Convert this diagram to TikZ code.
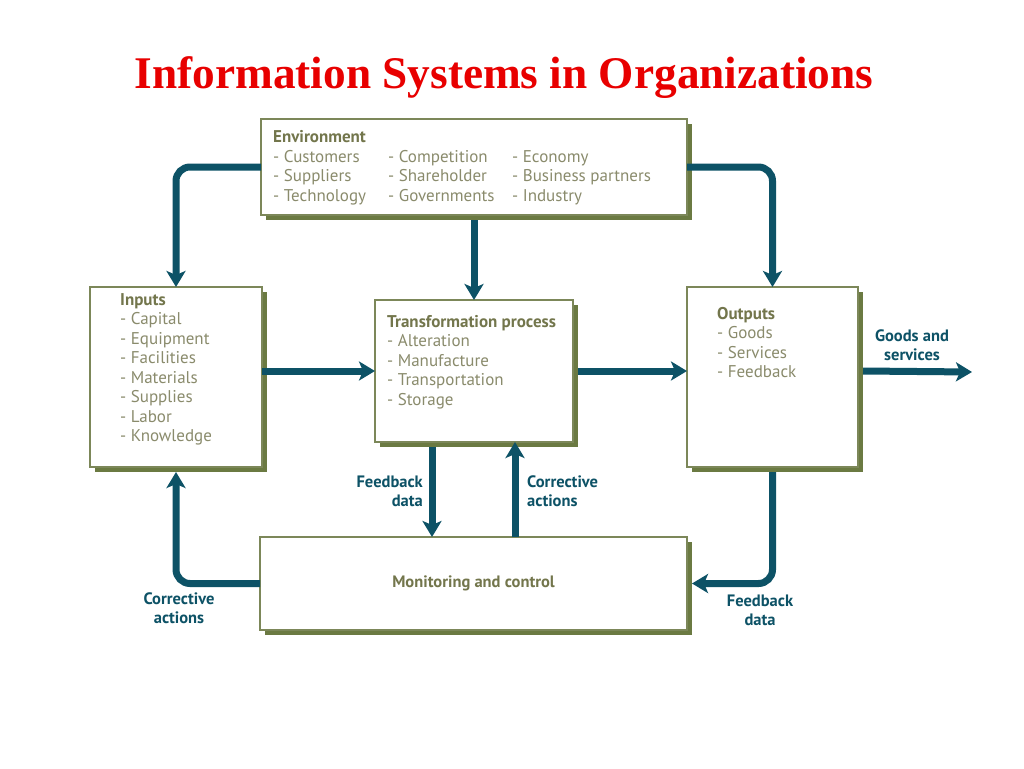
\documentclass[tikz,border=0pt]{standalone}
\usepackage{fontspec}
\setmainfont{Liberation Serif}
\setsansfont{PT Sans}
\usetikzlibrary{arrows.meta, positioning, calc, shadows}
\definecolor{isteal}{HTML}{0D5266}
\definecolor{isolive}{HTML}{6B7A42}
\definecolor{isedge}{HTML}{7C8759}
\definecolor{ishead}{HTML}{73764C}
\definecolor{isitem}{HTML}{8A8B6C}
\definecolor{isred}{HTML}{E80000}
\tikzset{
  sysbox/.style={draw=isedge, line width=1.2pt, fill=white, inner sep=0pt, outer sep=0pt,
    drop shadow={shadow xshift=5pt, shadow yshift=-5pt, fill=isolive, opacity=1}},
  boxtext/.style={font=\sffamily\fontsize{17}{19.5}\selectfont, text=isitem, inner sep=0pt,
    anchor=north west, align=left},
  flow/.style={draw=isteal, line width=7pt, rounded corners=14pt,
    -{Stealth[length=16pt,width=19pt,inset=4pt]}},
  flowlbl/.style={font=\sffamily\bfseries\fontsize{16.5}{19}\selectfont, text=isteal, inner sep=0pt}
}
\newcommand{\boxhead}[1]{\textcolor{ishead}{\bfseries #1}}

\begin{document}
\begin{tikzpicture}[x=1pt, y=-1pt]
\useasboundingbox[fill=white] (0,0) rectangle (1024,768);

% title
\node[font=\bfseries\fontsize{45.3}{50}\selectfont, text=isred, anchor=base] (title) at (504,88)
  {Information Systems in Organizations};

% boxes
\node[sysbox, minimum width=426pt, minimum height=96pt] (env) at (474,167) {};
\node[sysbox, minimum width=172pt, minimum height=180pt] (inputs) at (176,377) {};
\node[sysbox, minimum width=198pt, minimum height=142pt] (trans) at (474,371) {};
\node[sysbox, minimum width=171pt, minimum height=180pt] (outputs) at (772.5,377) {};
\node[sysbox, minimum width=427pt, minimum height=93pt, font=\sffamily\bfseries\fontsize{16.5}{19}\selectfont,
  text=ishead] (mon) at (473.5,583.5) {Monitoring and control};

% box contents
\node[boxtext] (envtxt) at ([xshift=12pt, yshift=-10pt]env.north west) {%
  \begin{tabular}{@{}p{115pt}@{}p{124pt}@{}l@{}}
  \boxhead{Environment} & & \\
  - Customers & - Competition & - Economy \\
  - Suppliers & - Shareholder & - Business partners \\
  - Technology & - Governments & - Industry
  \end{tabular}};
\node[boxtext] (inputstxt) at ([xshift=30pt, yshift=-6pt]inputs.north west)
  {\boxhead{Inputs}\\- Capital\\- Equipment\\- Facilities\\- Materials\\- Supplies\\- Labor\\- Knowledge};
\node[boxtext] (transtxt) at ([xshift=12pt, yshift=-15pt]trans.north west)
  {\boxhead{Transformation process}\\- Alteration\\- Manufacture\\- Transportation\\- Storage};
\node[boxtext] (outputstxt) at ([xshift=30pt, yshift=-20pt]outputs.north west)
  {\boxhead{Outputs}\\- Goods\\- Services\\- Feedback};

% flows
\coordinate (gsend) at (972,372);
\draw[flow] (env.west) -| (inputs.north);
\draw[flow] (env.east) -| (outputs.north);
\draw[flow] ([yshift=-5pt]env.south) -- (trans.north);
\draw[flow] (inputs.east |- trans.west) -- (trans.west);
\draw[flow] ([xshift=5pt]trans.east) -- (outputs.west |- trans.east);
\draw[flow] ([xshift=5pt]outputs.east |- trans.east) -- (gsend);
\draw[flow] ([xshift=-42pt, yshift=-5pt]trans.south) -- ([xshift=-42pt]trans.south |- mon.north);
\draw[flow] ([xshift=41pt]trans.south |- mon.north) -- ([xshift=41pt]trans.south);
\draw[flow] ([yshift=-5pt]outputs.south) |- ([xshift=5pt]mon.east);
\draw[flow] (mon.west) -| ([yshift=-5pt]inputs.south);

% flow labels
\node[flowlbl, align=center] (gslbl) at (912,345) {Goods and\\services};
\node[flowlbl, align=right, anchor=east] (fblbl) at (423,491) {Feedback\\data};
\node[flowlbl, align=left, anchor=west] (calbl) at (527,491) {Corrective\\actions};
\node[flowlbl, align=center] (calbl2) at (179,608) {Corrective\\actions};
\node[flowlbl, align=center] (fblbl2) at (760,610) {Feedback\\data};
\end{tikzpicture}
\end{document}
